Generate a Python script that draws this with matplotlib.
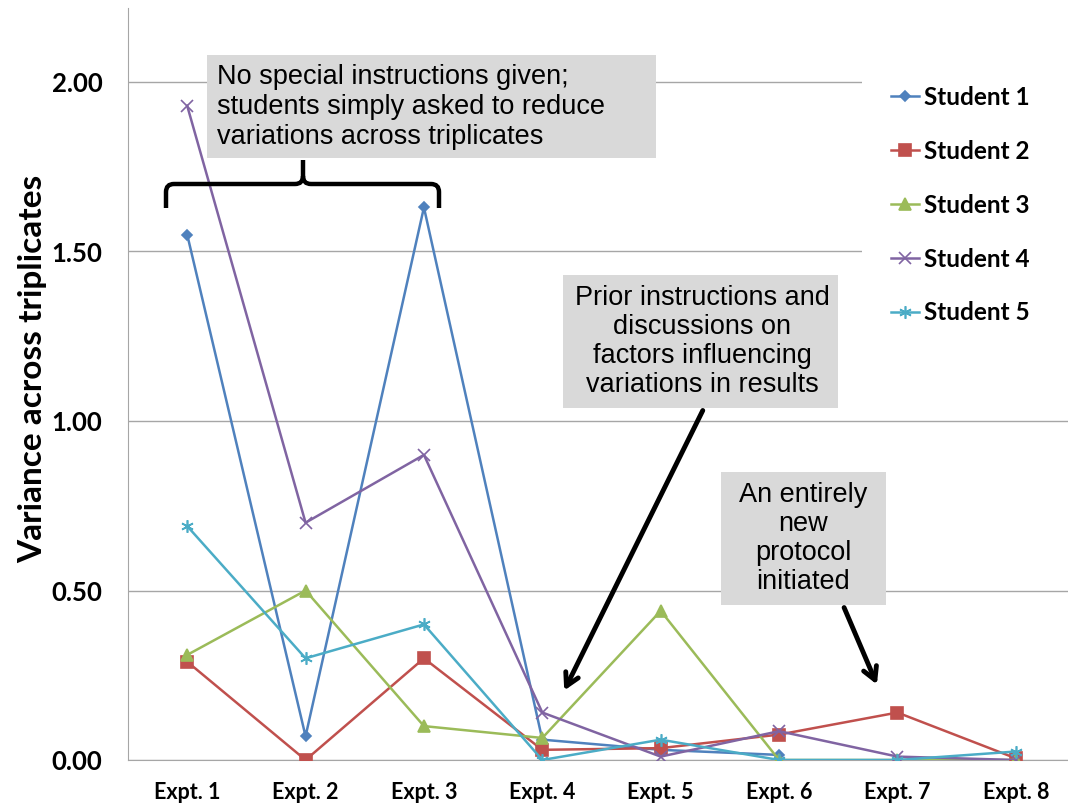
import numpy as np
import matplotlib.pyplot as plt
from matplotlib.patches import Rectangle
from matplotlib.path import Path
from matplotlib.patches import PathPatch

# data
expts = ["Expt. 1", "Expt. 2", "Expt. 3", "Expt. 4", "Expt. 5", "Expt. 6", "Expt. 7", "Expt. 8"]
student1 = [1.55, 0.07, 1.63, 0.06, 0.03, 0.015, np.nan, np.nan]
student2 = [0.29, 0.00, 0.30, 0.03, 0.035, 0.075, 0.14, 0.005]
student3 = [0.31, 0.50, 0.10, 0.065, 0.44, 0.00, 0.00, 0.00]
student4 = [1.93, 0.70, 0.90, 0.14, 0.01, 0.085, 0.01, 0.00]
student5 = [0.69, 0.30, 0.40, 0.00, 0.06, 0.00, 0.00, 0.025]
names = ["Student 1", "Student 2", "Student 3", "Student 4", "Student 5"]
yticks = [0.0, 0.5, 1.0, 1.5, 2.0]

colors = ["#4F81BD", "#C0504D", "#9BBB59", "#8064A2", "#4BACC6"]
markers = ["D", "s", "^", "x", (6, 2, 0)]
msizes = [5, 8, 8, 8, 9]

W, H = 1068, 805
fig = plt.figure(figsize=(W / 100, H / 100), dpi=100)

# plot area in pixels: left 128, bottom 760, top 8, x=8.5 at 1075
left, right, top, bottom = 128, 1075, 8, 760
ax = fig.add_axes([left / W, 1 - bottom / H, (right - left) / W, (bottom - top) / H])

x = np.arange(1, len(expts) + 1)
series = [student1, student2, student3, student4, student5]
lines = []
for vals, name, c, m, ms in zip(series, names, colors, markers, msizes):
    ln, = ax.plot(x, vals, color=c, lw=1.8, marker=m, markersize=ms,
                  markeredgewidth=1.2, markeredgecolor=c, markerfacecolor=c,
                  label=name, zorder=3)
    lines.append(ln)

ax.set_xlim(0.5, 8.5)
ax.set_ylim(0, (bottom - top) / 339.0)
ax.set_yticks(yticks)
ax.set_yticklabels([f"{v:.2f}" for v in yticks], fontsize=18.5, fontweight="bold",
                   family="Lato")
ax.set_xticks(x)
ax.set_xticklabels(expts, fontsize=15.5, fontweight="bold", family="Lato")
ax.tick_params(axis="y", length=0, pad=18.5)
ax.tick_params(axis="x", length=0, pad=16)
ax.grid(axis="y", color="#A6A6A6", lw=1)
ax.set_axisbelow(True)
for s in ["top", "right"]:
    ax.spines[s].set_visible(False)
for s in ["left", "bottom"]:
    ax.spines[s].set_color("#A6A6A6")
ax.set_ylabel("Variance across triplicates", fontsize=24, fontweight="bold",
              family="Lato")
ax.yaxis.set_label_coords(-0.085, 0.52)

# overlay in pixel coordinates for the callouts
ov = fig.add_axes([0, 0, 1, 1], zorder=5)
ov.set_xlim(0, W)
ov.set_ylim(H, 0)
ov.axis("off")
ov.patch.set_alpha(0)

box = "#D9D9D9"
ov.add_patch(Rectangle((207, 55), 449, 103, facecolor=box, edgecolor="none"))
ov.text(217, 107, "No special instructions given;\nstudents simply asked to reduce\nvariations across triplicates",
        ha="left", va="center", fontsize=19.5, family="Liberation Sans", linespacing=1.2)

ov.add_patch(Rectangle((563, 275), 275, 133, facecolor=box, edgecolor="none"))
ov.text(702, 341, "Prior instructions and\ndiscussions on\nfactors influencing\nvariations in results",
        ha="center", va="center", fontsize=19.5, family="Liberation Sans", linespacing=1.15)

ov.add_patch(Rectangle((721, 472), 165, 133, facecolor=box, edgecolor="none"))
ov.text(803, 538, "An entirely\nnew\nprotocol\ninitiated",
        ha="center", va="center", fontsize=19.5, family="Liberation Sans", linespacing=1.15)

arrow = dict(arrowstyle="->,head_length=0.9,head_width=0.5", lw=3.5, color="black")
ov.annotate("", xy=(563, 693), xytext=(704, 408), arrowprops=arrow)
ov.annotate("", xy=(878, 687), xytext=(843, 605), arrowprops=arrow)

# curly brace under the first callout
r = 8
verts = [(166, 208), (166, 184 + r), (166, 184), (166 + r, 184),
         (303 - r, 184), (303, 184), (303, 184 - r), (303, 160),
         (303, 184 - r), (303, 184), (303 + r, 184), (439 - r, 184),
         (439, 184), (439, 184 + r), (439, 208)]
codes = [Path.MOVETO, Path.LINETO, Path.CURVE3, Path.CURVE3,
         Path.LINETO, Path.CURVE3, Path.CURVE3, Path.LINETO,
         Path.MOVETO, Path.CURVE3, Path.CURVE3, Path.LINETO,
         Path.CURVE3, Path.CURVE3, Path.LINETO]
ov.add_patch(PathPatch(Path(verts, codes), facecolor="none", edgecolor="black", lw=3.2))

# white area behind the legend
ov.add_patch(Rectangle((862, 62), 206, 272, facecolor="white", edgecolor="none"))
leg = ov.legend(handles=lines, loc="upper left", bbox_to_anchor=(891, 86),
                bbox_transform=ov.transData, frameon=False,
                prop={"family": "Lato", "weight": "bold", "size": 17.5},
                labelspacing=1.27, handlelength=1.15, handletextpad=0.2,
                borderpad=0, borderaxespad=0)

fig.savefig("out.png", dpi=100)
